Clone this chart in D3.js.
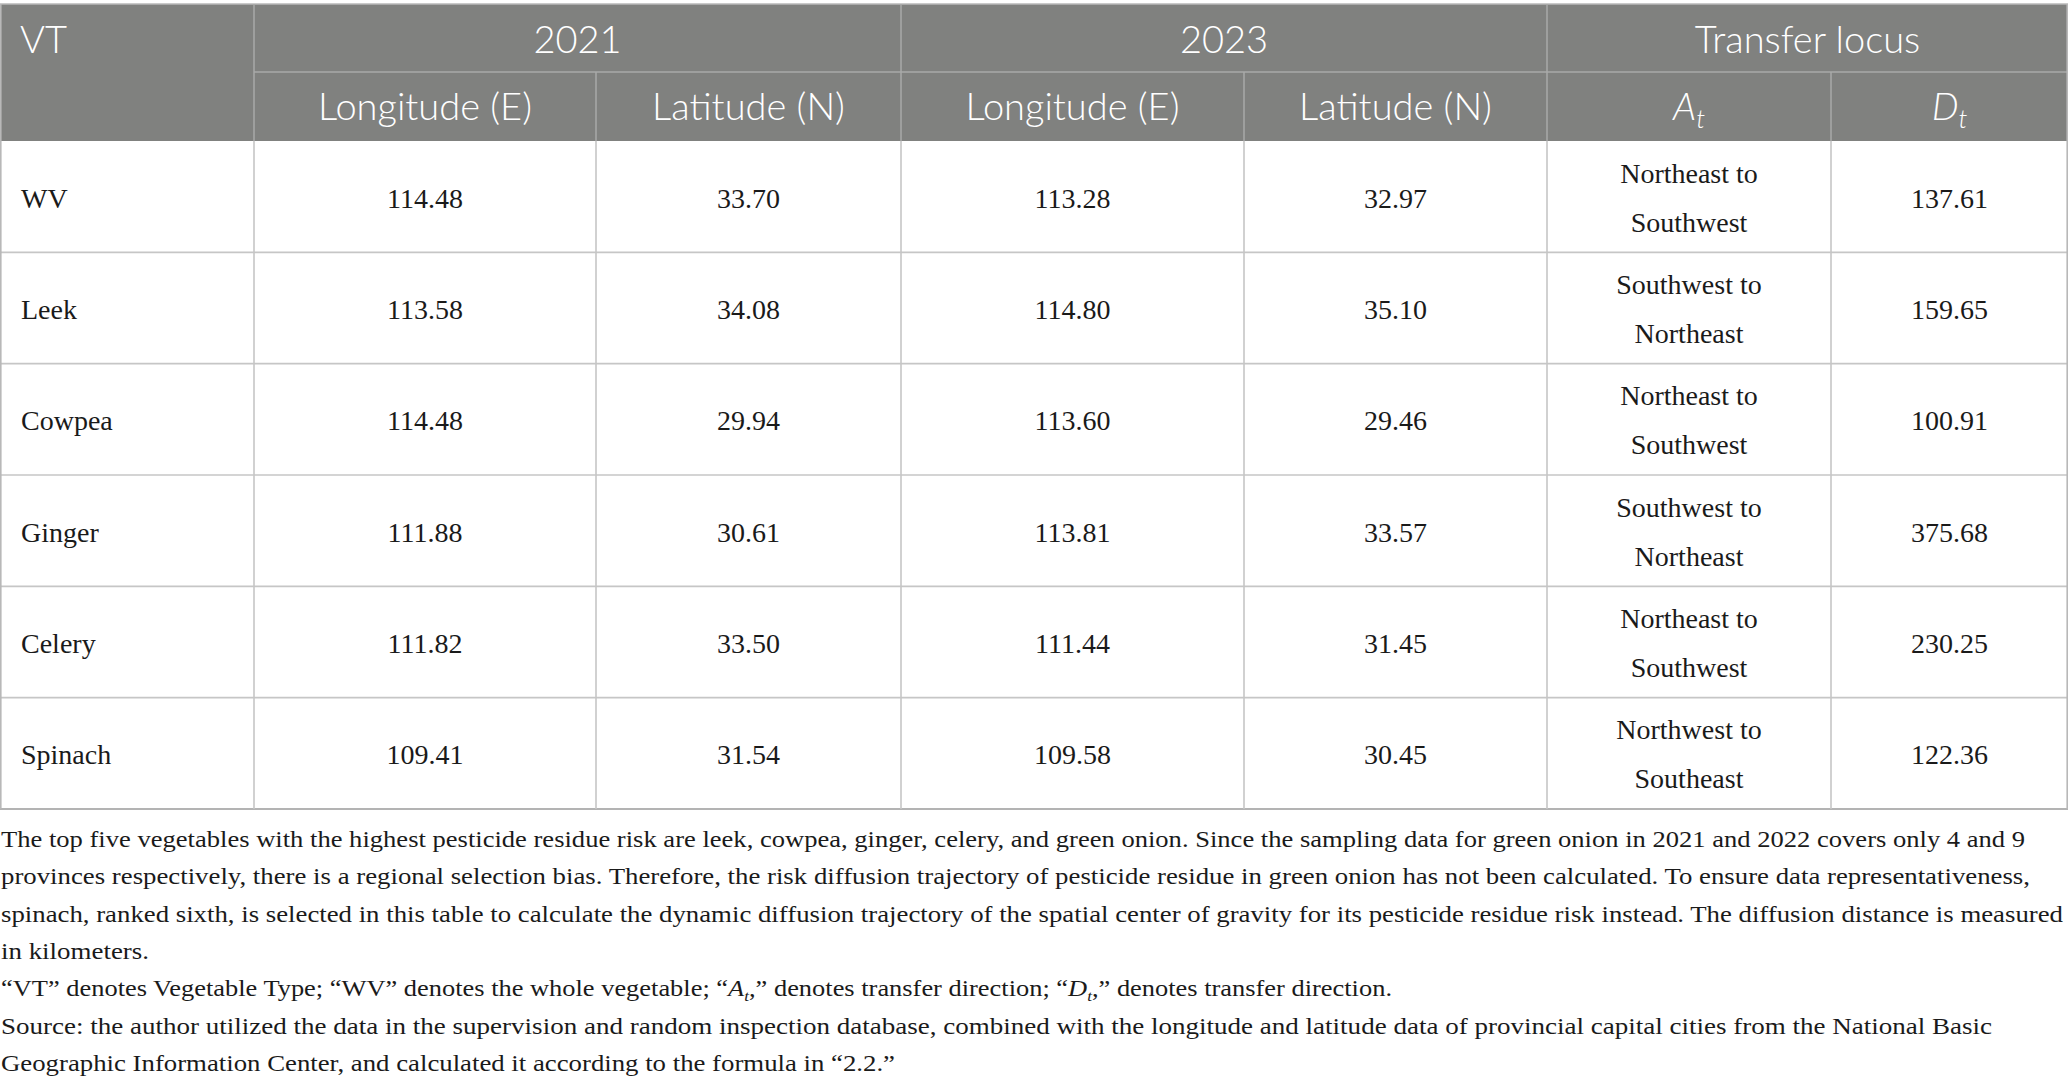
<!DOCTYPE html>
<html>
<head>
<meta charset="utf-8">
<script src="https://cdn.jsdelivr.net/npm/d3@7"></script>
<style>
  body { margin: 0; background: #fff; }
</style>
</head>
<body>
<div id="table"></div>
<script>
// table values
var vegTypes = ["WV", "Leek", "Cowpea", "Ginger", "Celery", "Spinach"];
var lon2021 = [114.48, 113.58, 114.48, 111.88, 111.82, 109.41];
var lat2021 = [33.70, 34.08, 29.94, 30.61, 33.50, 31.54];
var lon2023 = [113.28, 114.80, 113.60, 113.81, 111.44, 109.58];
var lat2023 = [32.97, 35.10, 29.46, 33.57, 31.45, 30.45];
var directions = ["Northeast to Southwest", "Southwest to Northeast", "Northeast to Southwest",
                  "Southwest to Northeast", "Northeast to Southwest", "Northwest to Southeast"];
var distances = [137.61, 159.65, 100.91, 375.68, 230.25, 122.36];

var groupHeaders = ["2021", "2023", "Transfer locus"];
var subHeaders = ["Longitude (E)", "Latitude (N)", "Longitude (E)", "Latitude (N)", "{A}", "{D}"];

// {A} and {D} stand for italic A / D with a subscript t
var notes = [
  "The top five vegetables with the highest pesticide residue risk are leek, cowpea, ginger, celery, and green onion. Since the sampling data for green onion in 2021 and 2022 covers only 4 and 9",
  "provinces respectively, there is a regional selection bias. Therefore, the risk diffusion trajectory of pesticide residue in green onion has not been calculated. To ensure data representativeness,",
  "spinach, ranked sixth, is selected in this table to calculate the dynamic diffusion trajectory of the spatial center of gravity for its pesticide residue risk instead. The diffusion distance is measured",
  "in kilometers.",
  "\u201cVT\u201d denotes Vegetable Type; \u201cWV\u201d denotes the whole vegetable; \u201c{A},\u201d denotes transfer direction; \u201c{D},\u201d denotes transfer direction.",
  "Source: the author utilized the data in the supervision and random inspection database, combined with the longitude and latitude data of provincial capital cities from the National Basic",
  "Geographic Information Center, and calculated it according to the formula in \u201c2.2.\u201d"
];
var noteWidths = [2024, 2029, 2062, 148, 1391, 1991, 894];

// layout
var svgWidth = 2068;
var svgHeight = 1087;
var colEdges = [0, 254, 596, 901, 1244, 1547, 1831, 2068];
var headTop = 4, headMid = 72, headBottom = 141, tableBottom = 809;
var headFill = "#80817f";
var headLine = "#a9aaa8";
var bodyLine = "#c6c6c6";
var sansFont = "Lato, 'Open Sans', sans-serif";
var serifFont = "'Liberation Serif', 'DejaVu Serif', serif";

var rows = vegTypes.map(function(v, i) {
  return {
    vt: v,
    cells: [lon2021[i].toFixed(2), lat2021[i].toFixed(2), lon2023[i].toFixed(2),
            lat2023[i].toFixed(2), directions[i], distances[i].toFixed(2)]
  };
});

var svg = d3.select("#table")
  .append("svg")
  .attr("width", svgWidth)
  .attr("height", svgHeight);

var yScale = d3.scaleBand()
  .domain(vegTypes)
  .range([headBottom, tableBottom]);

// column centre for sub columns 0..5
function colCenter(j) { return (colEdges[j + 1] + colEdges[j + 2]) / 2; }

// writes text with {A}/{D} markers as italic letter + subscript t
function richText(sel, str, subSize, subShift) {
  var back = 0;
  str.split(/(\{[AD]\})/).forEach(function(part) {
    if (part === "") return;
    var m = part.match(/^\{([AD])\}$/);
    if (m) {
      sel.append("tspan").attr("font-style", "italic").attr("dy", back || null).text(m[1]);
      sel.append("tspan").attr("font-style", "italic")
        .attr("font-size", subSize).attr("dy", subShift).text("t");
      back = -subShift;
    } else {
      sel.append("tspan").attr("dy", back || null).text(part);
      back = 0;
    }
  });
}

// header background
svg.append("rect")
  .attr("x", 0).attr("y", headTop)
  .attr("width", svgWidth).attr("height", headBottom - headTop)
  .attr("fill", headFill);

// header lines
svg.append("line")
  .attr("x1", 0).attr("x2", svgWidth).attr("y1", headTop).attr("y2", headTop)
  .attr("stroke", "#b8b8b8").attr("stroke-width", 1.5);
svg.append("line")
  .attr("x1", colEdges[1]).attr("x2", svgWidth).attr("y1", headMid).attr("y2", headMid)
  .attr("stroke", headLine).attr("stroke-width", 1.5);
[1, 3, 5].forEach(function(k) {
  svg.append("line")
    .attr("x1", colEdges[k]).attr("x2", colEdges[k]).attr("y1", headTop).attr("y2", headBottom)
    .attr("stroke", headLine).attr("stroke-width", 1.5);
});
[2, 4, 6].forEach(function(k) {
  svg.append("line")
    .attr("x1", colEdges[k]).attr("x2", colEdges[k]).attr("y1", headMid).attr("y2", headBottom)
    .attr("stroke", headLine).attr("stroke-width", 1.5);
});

// header text
svg.append("text")
  .attr("x", 20).attr("y", 53)
  .attr("font-family", sansFont).attr("font-size", 38).attr("font-weight", 300)
  .attr("fill", "#fff")
  .text("VT");

svg.selectAll(".group-head")
  .data(groupHeaders)
  .enter()
  .append("text")
  .attr("class", "group-head")
  .attr("x", function(d, i) { return (colEdges[1 + 2 * i] + colEdges[3 + 2 * i]) / 2; })
  .attr("y", 53)
  .attr("text-anchor", "middle")
  .attr("font-family", sansFont).attr("font-size", 38).attr("font-weight", 300)
  .attr("fill", "#fff")
  .text(function(d) { return d; });

svg.selectAll(".sub-head")
  .data(subHeaders)
  .enter()
  .append("text")
  .attr("class", "sub-head")
  .attr("x", function(d, i) { return colCenter(i); })
  .attr("y", 120)
  .attr("text-anchor", "middle")
  .attr("font-family", sansFont).attr("font-size", 38).attr("font-weight", 300)
  .attr("fill", "#fff")
  .each(function(d) { richText(d3.select(this), d, 26, 8); });

// body rows
var rowGroups = svg.selectAll(".row")
  .data(rows)
  .enter()
  .append("g")
  .attr("class", "row")
  .attr("transform", function(d) { return "translate(0," + yScale(d.vt) + ")"; });

var bh = yScale.bandwidth();

rowGroups.append("line")
  .attr("x1", 0).attr("x2", svgWidth)
  .attr("y1", bh).attr("y2", bh)
  .attr("stroke", function(d, i) { return i === rows.length - 1 ? "#b3b3b3" : bodyLine; })
  .attr("stroke-width", function(d, i) { return i === rows.length - 1 ? 2.2 : 1.6; });

rowGroups.append("text")
  .attr("x", 21).attr("y", bh / 2 + 11)
  .attr("font-family", serifFont).attr("font-size", 28)
  .attr("fill", "#1a1a1a")
  .text(function(d) { return d.vt; });

rowGroups.each(function(d) {
  var g = d3.select(this);
  d.cells.forEach(function(c, j) {
    var t = g.append("text")
      .attr("x", colCenter(j))
      .attr("text-anchor", "middle")
      .attr("font-family", serifFont).attr("font-size", 28)
      .attr("fill", "#1a1a1a");
    var idx = c.indexOf(" to ");
    if (idx > 0) {
      t.attr("y", bh / 2 - 14);
      t.append("tspan").attr("x", colCenter(j)).text(c.slice(0, idx + 3));
      t.append("tspan").attr("x", colCenter(j)).attr("dy", 49).text(c.slice(idx + 4));
    } else {
      t.attr("y", bh / 2 + 11).text(c);
    }
  });
});

// body vertical lines
colEdges.forEach(function(x, k) {
  var outer = k === 0 || k === colEdges.length - 1;
  var xx = k === 0 ? 0.8 : (k === colEdges.length - 1 ? svgWidth - 0.8 : x);
  svg.append("line")
    .attr("x1", xx).attr("x2", xx)
    .attr("y1", outer ? headTop : headBottom)
    .attr("y2", tableBottom)
    .attr("stroke", outer ? "#b8b8b8" : bodyLine)
    .attr("stroke-width", 1.6);
});

// footnotes
var noteY = d3.scaleLinear().domain([0, notes.length - 1]).range([847, 1071]);

svg.selectAll(".note")
  .data(notes)
  .enter()
  .append("text")
  .attr("class", "note")
  .attr("x", 1)
  .attr("y", function(d, i) { return noteY(i); })
  .attr("font-family", serifFont).attr("font-size", 23)
  .attr("fill", "#1a1a1a")
  .attr("textLength", function(d, i) { return noteWidths[i]; })
  .attr("lengthAdjust", "spacingAndGlyphs")
  .each(function(d) { richText(d3.select(this), d, 15, 5); });
</script>
</body>
</html>
